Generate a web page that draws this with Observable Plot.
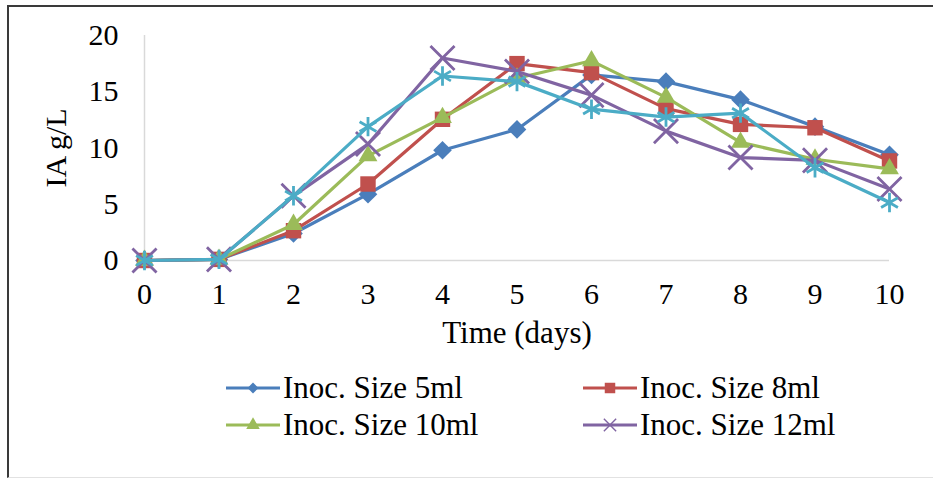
<!DOCTYPE html>
<html>
<head>
<meta charset="utf-8">
<script src="https://cdn.jsdelivr.net/npm/d3@7"></script>
<script src="https://cdn.jsdelivr.net/npm/@observablehq/plot@0.6"></script>
<style>
  body { margin: 0; background: #fff; }
  #frame { position: relative; width: 933px; height: 479px; overflow: hidden; background: #fff;
           font-family: "Liberation Serif", "Times New Roman", serif; }
  #frame text { font-family: "Liberation Serif", "Times New Roman", serif; }
  #border { position: absolute; left: 7px; top: 5px; width: 1000px; height: 473px; box-sizing: border-box;
            border-left: 2px solid #3a3a3a; border-top: 2px solid #3a3a3a; border-bottom: 1px solid #e2e2e2; }
  #chart, #legend { position: absolute; left: 0; }
  #chart { top: 0; }
  #legend { top: 350px; }
</style>
</head>
<body>
<div id="frame">
  <div id="border"></div>
  <div id="chart"></div>
  <svg id="legend" width="933" height="120"></svg>
</div>
<script>
// Sampling days
const days = [0, 1, 2, 3, 4, 5, 6, 7, 8, 9, 10];
const dayTicks = [0, 1, 2, 3, 4, 5, 6, 7, 8, 9, 10];
const iaTicks = [0, 5, 10, 15, 20];

// Itaconic acid (g/L) per inoculum size
const ia5ml  = [0, 0.1, 2.4, 5.9, 9.8, 11.65, 16.5, 15.9, 14.3, 11.9, 9.4];
const ia8ml  = [0, 0.1, 2.65, 6.8, 12.55, 17.5, 16.7, 13.5, 12.1, 11.8, 8.85];
const ia10ml = [0, 0.1, 3.2, 9.3, 12.7, 16.2, 17.75, 14.5, 10.5, 9.0, 8.15];
const ia12ml = [0, 0.1, 5.75, 10.35, 18.0, 16.8, 14.7, 11.5, 9.15, 8.9, 6.35];
const iaExtra = [0, 0.1, 5.75, 11.9, 16.4, 15.9, 13.45, 12.75, 13.1, 8.25, 5.15];

const seriesNames = ["Inoc. Size 5ml", "Inoc. Size 8ml", "Inoc. Size 10ml", "Inoc. Size 12ml", ""];
const seriesValues = [ia5ml, ia8ml, ia10ml, ia12ml, iaExtra];

// Styling per series: colour, marker symbol, marker radius, filled or stroked
const styles = [
  {color: "#4a7ebb", symbol: "diamond2", r: 8.4, filled: true},
  {color: "#c0504d", symbol: "square",   r: 8.7, filled: true},
  {color: "#9bbb59", symbol: "triangle", r: 7.0, filled: true},
  {color: "#8064a2", symbol: "times",    r: 11, filled: false},
  {color: "#4bacc6", symbol: "asterisk", r: 9.2, filled: false}
];

const series = seriesValues.map((vals, i) =>
  days.map((d, j) => ({day: d, ia: vals[j], name: seriesNames[i], k: i}))
);

const serif = "'Liberation Serif', 'Times New Roman', serif";

const marks = [
  Plot.ruleX([0], {stroke: "#d9d9d9", strokeWidth: 1.5, y1: 0, y2: 20}),
  Plot.ruleY([0], {stroke: "#d9d9d9", strokeWidth: 1.5}),
  Plot.axisX({ticks: dayTicks, tickSize: 0, tickPadding: 22, tickFormat: d3.format("d"), label: null, fill: "#000", fontFamily: serif}),
  Plot.axisY({ticks: iaTicks, tickSize: 0, tickPadding: 26, tickFormat: d3.format("d"), label: null, fill: "#000", fontFamily: serif}),
  Plot.text(["IA g/L"], {frameAnchor: "left", textAnchor: "middle", lineAnchor: "middle", dx: -88, rotate: -90, fontSize: 30, fill: "#000", fontFamily: serif}),
  Plot.text(["Time (days)"], {frameAnchor: "bottom", lineAnchor: "middle", dy: 73, fontSize: 31, fill: "#000", fontFamily: serif})
];

series.forEach((data, i) => {
  const s = styles[i];
  marks.push(Plot.line(data, {x: "day", y: "ia", stroke: s.color, strokeWidth: 3.2, curve: "linear"}));
  marks.push(Plot.dot(data, s.filled
    ? {x: "day", y: "ia", symbol: () => s.symbol, r: s.r, fill: s.color, stroke: "none"}
    : {x: "day", y: "ia", symbol: () => s.symbol, r: s.r, fill: "none", stroke: s.color, strokeWidth: 2.8}));
});

const chart = Plot.plot({
  width: 933,
  height: 350,
  marginLeft: 144,
  marginRight: 44,
  marginTop: 35,
  marginBottom: 90,
  x: {domain: [0, 10]},
  y: {domain: [0, 20]},
  symbol: {type: "identity"},
  style: {fontFamily: serif, fontSize: "30px", background: "transparent", color: "#000"},
  marks
});
document.getElementById("chart").appendChild(chart);

// Legend below the plot, two columns by two rows
const legend = d3.select("#legend");
const legendPos = [
  {x: 226, y: 38}, {x: 583, y: 38},
  {x: 226, y: 75}, {x: 583, y: 75}
];
const legendTypes = [d3.symbolDiamond2, d3.symbolSquare, d3.symbolTriangle, d3.symbolTimes];
const legendSize = [75, 110, 80, 100];
seriesNames.slice(0, 4).forEach((name, i) => {
  const p = legendPos[i];
  const s = styles[i];
  const g = legend.append("g").attr("transform", `translate(${p.x},${p.y})`);
  g.append("line").attr("x1", 0).attr("x2", 54).attr("y1", 0).attr("y2", 0)
    .attr("stroke", s.color).attr("stroke-width", 3.2);
  const path = g.append("path")
    .attr("transform", "translate(27,0)")
    .attr("d", d3.symbol(legendTypes[i], legendSize[i])());
  if (s.filled) path.attr("fill", s.color);
  else path.attr("fill", "none").attr("stroke", s.color).attr("stroke-width", 1.4);
  g.append("text").attr("x", 57).attr("y", 9.5)
    .style("font-family", serif)
    .attr("font-size", 31).attr("fill", "#000").text(name);
});
</script>
</body>
</html>
